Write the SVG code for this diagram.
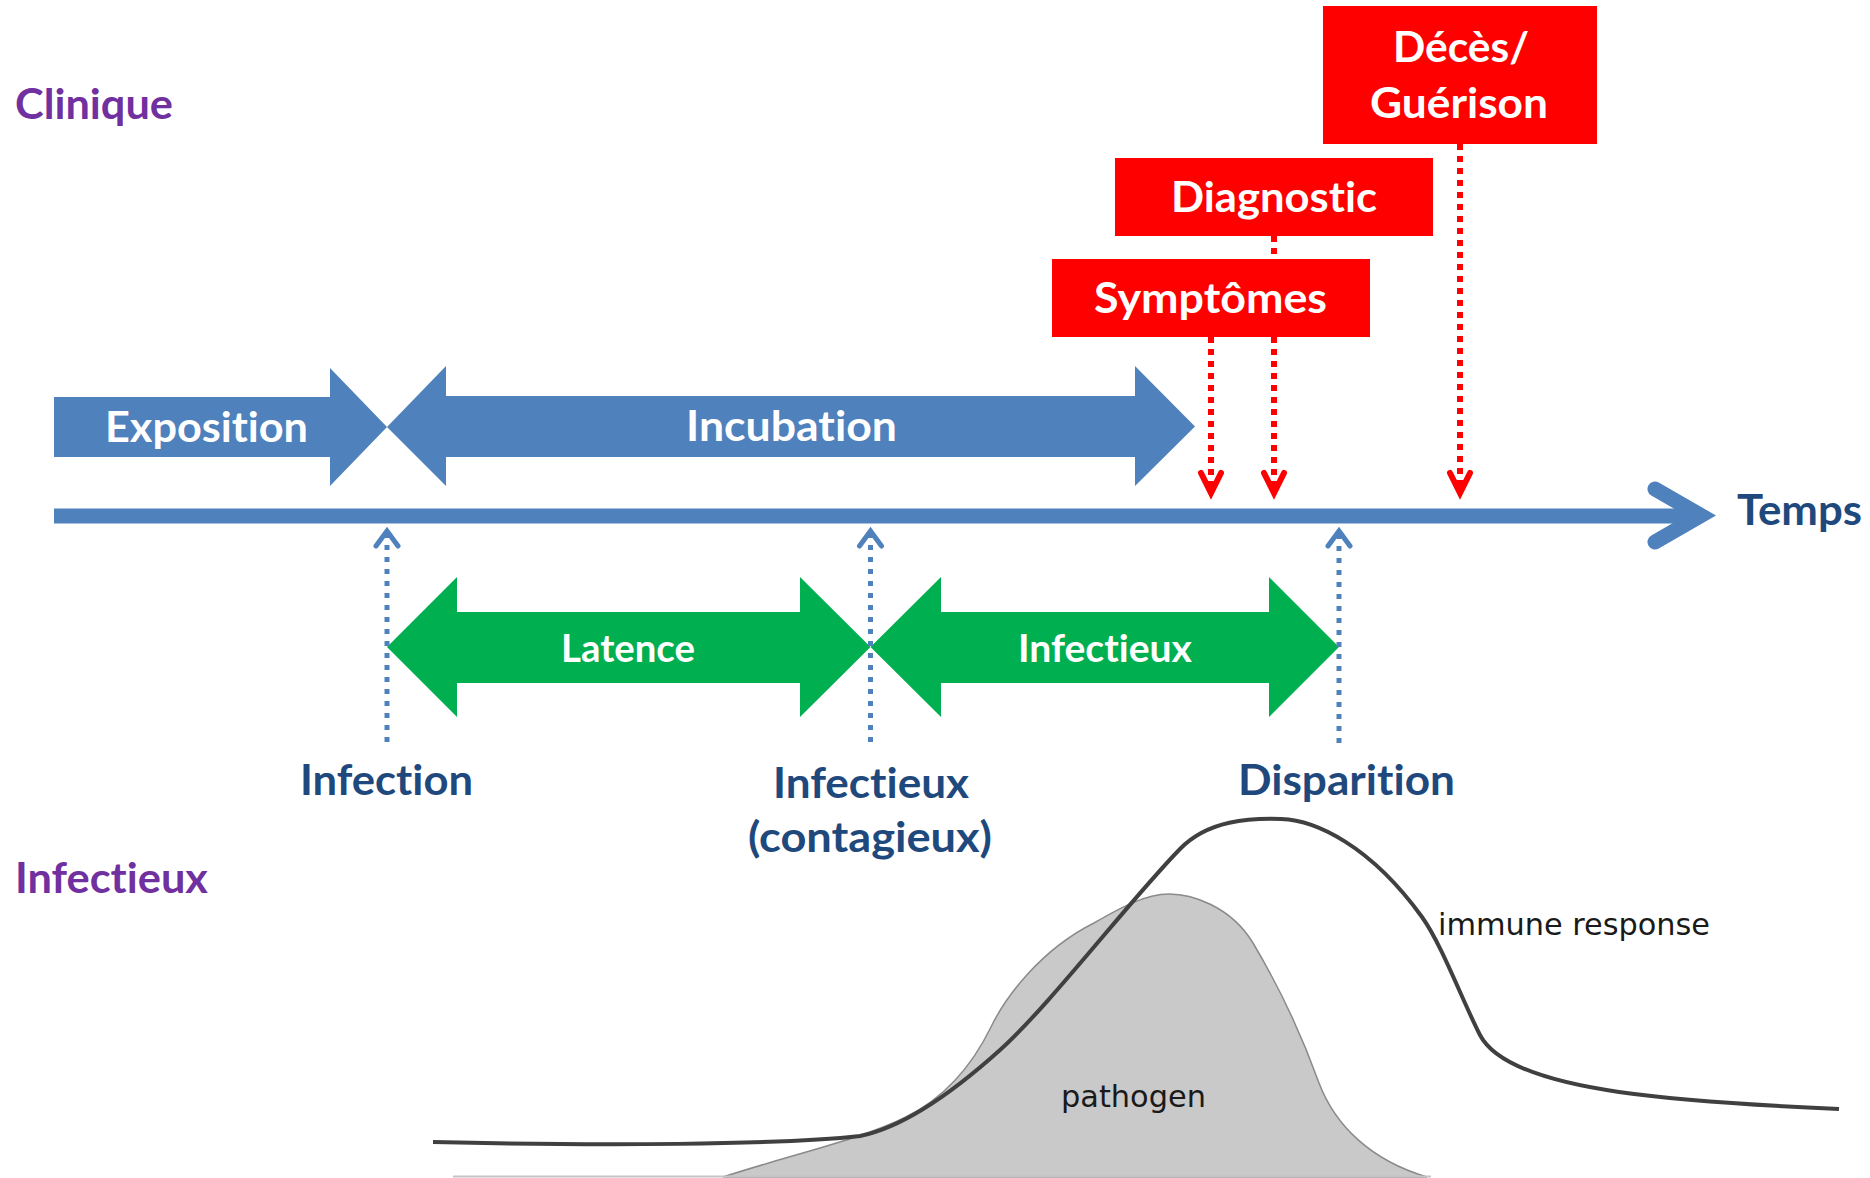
<svg xmlns="http://www.w3.org/2000/svg" width="1870" height="1178" viewBox="0 0 1870 1178">
<style>
.lbl{font-family:Lato,"Liberation Sans",sans-serif;font-weight:bold;font-size:42px;font-variant-ligatures:none;font-feature-settings:"liga" 0,"clig" 0,"dlig" 0}
.w{fill:#ffffff}
.navy{fill:#1F497D}
.purple{fill:#7030A0}
.green-t{font-size:38px}
.blue{fill:#4F81BD}
.green{fill:#00B050}
.redbox{fill:#FF0000}
.bdash{fill:none;stroke:#4F81BD;stroke-width:5;stroke-dasharray:5 7}
.rdash{fill:none;stroke:#FF0000;stroke-width:6;stroke-dasharray:6 6}
.chart{font-family:"DejaVu Sans Condensed","DejaVu Sans",sans-serif;font-size:31px;fill:#1a1a1a}
</style>
<defs>
<marker id="rhead" markerUnits="userSpaceOnUse" orient="auto" overflow="visible" refX="0" refY="0" markerWidth="1" markerHeight="1">
<path d="M-20,-10 L0,0 L-20,10" fill="none" stroke="#FF0000" stroke-width="6" stroke-linecap="round" stroke-linejoin="miter"/>
</marker>
<marker id="bhead" markerUnits="userSpaceOnUse" orient="auto" overflow="visible" refX="0" refY="0" markerWidth="1" markerHeight="1">
<path d="M-15,-11 L0,0 L-15,11" fill="none" stroke="#4F81BD" stroke-width="5" stroke-linecap="round" stroke-linejoin="miter"/>
</marker>
</defs>
<rect width="1870" height="1178" fill="#ffffff"/>

<g id="section-labels">
<text class="lbl purple" x="15" y="119" textLength="158" lengthAdjust="spacingAndGlyphs">Clinique</text>
<text class="lbl purple" x="15" y="893" textLength="193" lengthAdjust="spacingAndGlyphs">Infectieux</text>
</g>

<g id="chart">
<path d="M723,1177 C790,1155 860,1140 906,1117 C940,1100 970,1070 991,1027 C1005,998 1040,950 1094,923 C1120,908 1145,894 1169,894 C1190,894 1230,905 1253,943 C1275,980 1300,1030 1319,1083 C1335,1125 1370,1160 1427,1177 Z" fill="#C9C9C9" stroke="#8A8A8A" stroke-width="1.5"/>
<line x1="453" y1="1176.5" x2="1431" y2="1176.5" stroke="#C4C4C4" stroke-width="2"/>
<path d="M433,1142 C600,1146 780,1145 860,1136 C900,1128 950,1095 1000,1050 C1050,1005 1130,900 1180,849 C1208,820 1250,818 1281,819 C1315,820 1370,845 1422,917 C1442,945 1462,1000 1480,1035 C1495,1064 1550,1082 1619,1092 C1690,1102 1770,1106 1839,1109" fill="none" stroke="#404040" stroke-width="4"/>
<text class="chart" x="1061" y="1107" textLength="145" lengthAdjust="spacingAndGlyphs">pathogen</text>
<text class="chart" x="1438" y="935" textLength="272" lengthAdjust="spacingAndGlyphs">immune response</text>
</g>

<g id="timeline">
<line x1="54" y1="516" x2="1700" y2="516" stroke="#4F81BD" stroke-width="15"/>
<path d="M1655,489 L1701,515.5 L1655,542" fill="none" stroke="#4F81BD" stroke-width="15" stroke-linecap="round" stroke-linejoin="miter"/>
<text class="lbl navy" x="1737" y="525" textLength="125" lengthAdjust="spacingAndGlyphs">Temps</text>
</g>

<g id="exposition">
<path class="blue" d="M54,397 L330,397 L330,368 L387,427 L330,486 L330,457 L54,457 Z"/>
<text class="lbl w" x="105" y="442" textLength="203" lengthAdjust="spacingAndGlyphs">Exposition</text>
</g>

<g id="incubation">
<path class="blue" d="M387,427 L446,366 L446,396 L1135,396 L1135,366 L1195,426.5 L1135,486 L1135,457 L446,457 L446,486 Z"/>
<text class="lbl w" x="686" y="441" textLength="211" lengthAdjust="spacingAndGlyphs">Incubation</text>
</g>

<g id="latence">
<path class="green" d="M387,647 L457,577 L457,612 L800,612 L800,577 L870.5,647 L800,717 L800,683 L457,683 L457,717 Z"/>
<text class="lbl w green-t" x="561" y="662" textLength="134" lengthAdjust="spacingAndGlyphs">Latence</text>
</g>

<g id="infectieux-period">
<path class="green" d="M870.5,647 L941,577 L941,612 L1269,612 L1269,577 L1339,647 L1269,717 L1269,683 L941,683 L941,717 Z"/>
<text class="lbl w green-t" x="1018" y="662" textLength="174" lengthAdjust="spacingAndGlyphs">Infectieux</text>
</g>

<g id="infection">
<text class="lbl navy" x="300" y="795" textLength="173" lengthAdjust="spacingAndGlyphs">Infection</text>
</g>

<g id="infectieux-contagieux">
<text class="lbl navy" x="773" y="798" textLength="196" lengthAdjust="spacingAndGlyphs">Infectieux</text>
<text class="lbl navy" x="748" y="852" textLength="244" lengthAdjust="spacingAndGlyphs">(contagieux)</text>
</g>

<g id="disparition">
<text class="lbl navy" x="1238" y="795" textLength="217" lengthAdjust="spacingAndGlyphs">Disparition</text>
</g>

<g id="deces-guerison">
<rect class="redbox" x="1323" y="6" width="274" height="138"/>
<text class="lbl w" x="1393" y="62" textLength="136" lengthAdjust="spacingAndGlyphs">Décès/</text>
<text class="lbl w" x="1370" y="118" textLength="178" lengthAdjust="spacingAndGlyphs">Guérison</text>
</g>

<g id="diagnostic">
<rect class="redbox" x="1115" y="158" width="318" height="78"/>
<text class="lbl w" x="1171" y="212" textLength="206" lengthAdjust="spacingAndGlyphs">Diagnostic</text>
</g>

<g id="symptomes">
<rect class="redbox" x="1052" y="259" width="318" height="78"/>
<text class="lbl w" x="1094" y="313" textLength="233" lengthAdjust="spacingAndGlyphs">Symptômes</text>
</g>

<g id="connectors">
<path class="rdash" d="M1211,337 L1211,493" marker-end="url(#rhead)"/>
<path class="rdash" d="M1274,236 L1274,259"/>
<path class="rdash" d="M1274,337 L1274,493" marker-end="url(#rhead)"/>
<path class="rdash" d="M1460,144 L1460,493" marker-end="url(#rhead)"/>
<path class="bdash" d="M387,742 L387,531" marker-end="url(#bhead)"/>
<path class="bdash" d="M870.5,742 L870.5,531" marker-end="url(#bhead)"/>
<path class="bdash" d="M1339,743 L1339,531" marker-end="url(#bhead)"/>
</g>
</svg>
